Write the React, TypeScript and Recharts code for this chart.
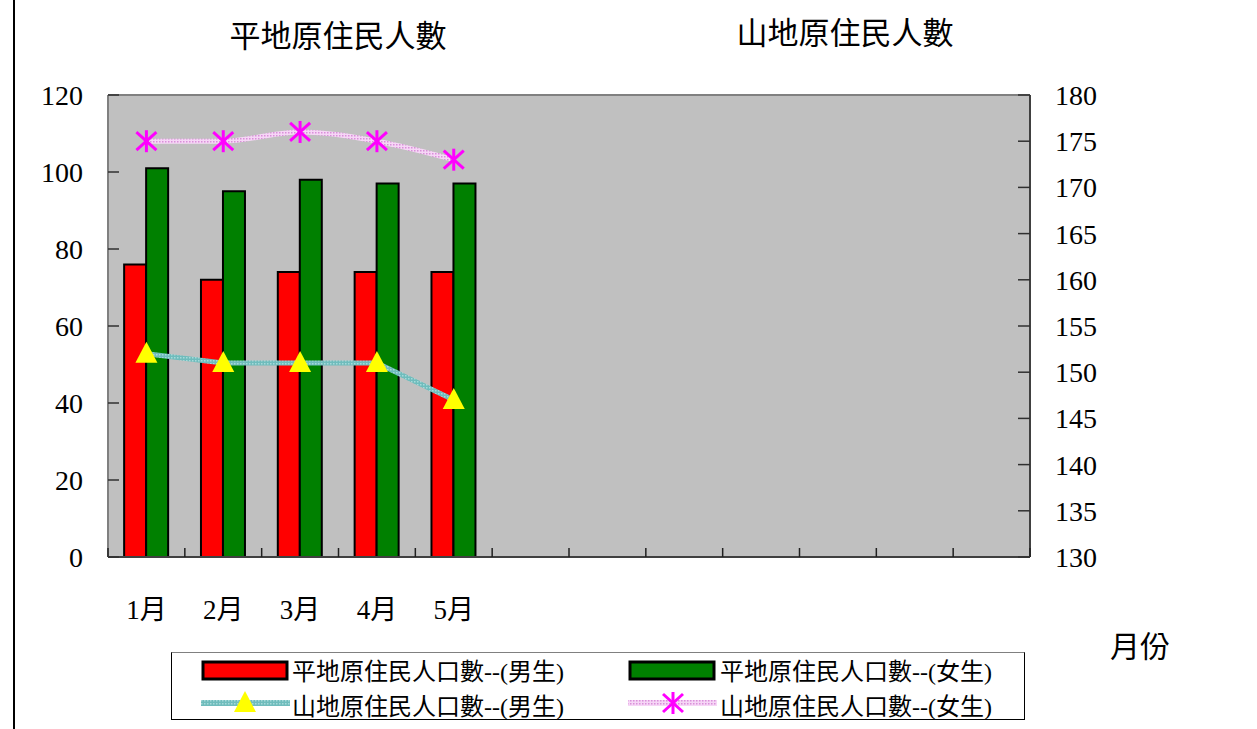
import React from 'react';
import { ComposedChart, Bar, Line, XAxis, YAxis, CartesianGrid, ReferenceLine } from 'recharts';

const months = ['1月', '2月', '3月', '4月', '5月', '6月', '7月', '8月', '9月', '10月', '11月', '12月'];
const tickLabels = ['1月', '2月', '3月', '4月', '5月', '', '', '', '', '', '', ''];
const plainMale = [76, 72, 74, 74, 74];
const plainFemale = [101, 95, 98, 97, 97];
const mountainMale = [152, 151, 151, 151, 147];
const mountainFemale = [175, 175, 176, 175, 173];
const leftTicks = [0, 20, 40, 60, 80, 100, 120];
const rightTicks = [130, 135, 140, 145, 150, 155, 160, 165, 170, 175, 180];

const seriesNames = {
  pm: '平地原住民人口數--(男生)',
  pf: '平地原住民人口數--(女生)',
  mm: '山地原住民人口數--(男生)',
  mf: '山地原住民人口數--(女生)',
};

const data = months.map((m, i) => ({
  month: m,
  pm: plainMale[i] ?? null,
  pf: plainFemale[i] ?? null,
  mm: mountainMale[i] ?? null,
  mf: mountainFemale[i] ?? null,
}));

const FONT = "'Liberation Serif', 'Noto Sans CJK TC', serif";
const W = 1257;
const H = 729;
const LEFT_W = 108;
const RIGHT_W = 227;
const TOP = 95;
const BOTTOM = 172;
const BAND = (W - LEFT_W - RIGHT_W) / months.length;

const XTick = (props: any) => {
  const { x, y, index } = props;
  const half = BAND / 2;
  return (
    <g>
      <line x1={x - half} x2={x - half} y1={y} y2={y - 9} stroke="#202020" strokeWidth={1.5} />
      {index === months.length - 1 && (
        <line x1={x + half} x2={x + half} y1={y} y2={y - 9} stroke="#202020" strokeWidth={1.5} />
      )}
      <text x={x} y={y + 62} textAnchor="middle" fontFamily={FONT} fontSize={27} fill="#000">
        {tickLabels[index]}
      </text>
    </g>
  );
};

const LeftTick = (props: any) => {
  const { x, y, payload } = props;
  return (
    <g>
      <line x1={x} x2={x + 11} y1={y} y2={y} stroke="#303030" strokeWidth={1.5} />
      <text x={x - 25} y={y} dy="0.36em" textAnchor="end" fontFamily={FONT} fontSize={28} fill="#000">
        {payload.value}
      </text>
    </g>
  );
};

const RightTick = (props: any) => {
  const { x, y, payload } = props;
  return (
    <g>
      <line x1={x} x2={x - 12} y1={y} y2={y} stroke="#303030" strokeWidth={1.5} />
      <text x={x + 25} y={y} dy="0.36em" textAnchor="start" fontFamily={FONT} fontSize={28} fill="#000">
        {payload.value}
      </text>
    </g>
  );
};

const Triangle = ({ cx, cy }: { cx: number; cy: number }) => (
  <polygon points={`${cx},${cy - 12} ${cx - 11},${cy + 9} ${cx + 11},${cy + 9}`} fill="#ffff00" />
);

const Star = ({ cx, cy }: { cx: number; cy: number }) => (
  <g stroke="#ff00ff" strokeWidth={3}>
    <line x1={cx} x2={cx} y1={cy - 11} y2={cy + 11} />
    <line x1={cx - 10} x2={cx + 10} y1={cy - 9} y2={cy + 9} />
    <line x1={cx - 10} x2={cx + 10} y1={cy + 9} y2={cy - 9} />
  </g>
);

const triDot = (p: any) => {
  if (p.value == null || p.cx == null) return <g key={p.index} />;
  return <Triangle key={p.index} cx={p.cx} cy={p.cy} />;
};
const starDot = (p: any) => {
  if (p.value == null || p.cx == null) return <g key={p.index} />;
  return <Star key={p.index} cx={p.cx} cy={p.cy} />;
};

const Patterns = () => (
  <defs>
    <pattern id="tealHatch" width="3" height="3" patternUnits="userSpaceOnUse">
      <rect width="3" height="3" fill="#6fbcbc" />
      <rect width="1.5" height="1.5" fill="#a6dada" />
    </pattern>
    <pattern id="pinkHatch" width="3" height="3" patternUnits="userSpaceOnUse">
      <rect width="3" height="3" fill="#f6d6f6" />
      <rect width="1.5" height="1.5" fill="#d98fd9" />
    </pattern>
  </defs>
);

const legendText: React.CSSProperties = {
  position: 'absolute',
  fontFamily: FONT,
  fontSize: 24,
  lineHeight: '24px',
  color: '#000',
  whiteSpace: 'nowrap',
};

const LegendBox = () => (
  <div
    style={{
      position: 'absolute',
      left: 171,
      top: 652,
      width: 854,
      height: 68,
      border: '1.5px solid #000',
      borderTopColor: '#808080',
      boxSizing: 'border-box',
      background: '#fff',
    }}
  >
    <svg width={854} height={68} style={{ position: 'absolute', left: -1.5, top: -1.5 }}>
      <Patterns />
      <rect x={32} y={10} width={84} height={17} fill="#ff0000" stroke="#000" strokeWidth={3} />
      <rect x={459} y={10} width={84} height={17} fill="#008000" stroke="#000" strokeWidth={3} />
      <rect x={30} y={48} width={89} height={6} fill="url(#tealHatch)" />
      <Triangle cx={74} cy={51} />
      <rect x={457} y={48} width={89} height={6} fill="url(#pinkHatch)" />
      <Star cx={502} cy={51} />
    </svg>
    <div style={{ ...legendText, left: 120, top: 7 }}>{seriesNames.pm}</div>
    <div style={{ ...legendText, left: 548, top: 7 }}>{seriesNames.pf}</div>
    <div style={{ ...legendText, left: 120, top: 42 }}>{seriesNames.mm}</div>
    <div style={{ ...legendText, left: 548, top: 42 }}>{seriesNames.mf}</div>
  </div>
);

export default function App() {
  return (
    <div style={{ position: 'fixed', left: 0, top: 0, width: W, height: H, background: '#fff', overflow: 'hidden' }}>
      <div style={{ position: 'absolute', left: 13, top: 0, width: 1.5, height: H, background: '#000' }} />
      <ComposedChart
        width={W}
        height={H}
        data={data}
        margin={{ top: TOP, bottom: 0, left: 0, right: 0 }}
        barCategoryGap="21%"
        barGap={0}
      >
        <Patterns />
        <CartesianGrid fill="#c0c0c0" horizontal={false} vertical={false} stroke="none" />
        <XAxis
          dataKey="month"
          height={BOTTOM}
          tickSize={0}
          tickMargin={0}
          tickLine={false}
          interval={0}
          tick={<XTick />}
          axisLine={{ stroke: '#404040', strokeWidth: 2 }}
        />
        <YAxis
          yAxisId="left"
          orientation="left"
          width={LEFT_W}
          domain={[0, 120]}
          ticks={leftTicks}
          interval={0}
          tickSize={0}
          tickMargin={0}
          tickLine={false}
          tick={<LeftTick />}
          axisLine={{ stroke: '#808080', strokeWidth: 2 }}
        />
        <YAxis
          yAxisId="right"
          orientation="right"
          width={RIGHT_W}
          domain={[130, 180]}
          ticks={rightTicks}
          interval={0}
          tickSize={0}
          tickMargin={0}
          tickLine={false}
          tick={<RightTick />}
          axisLine={{ stroke: '#404040', strokeWidth: 2 }}
        />
        <ReferenceLine yAxisId="left" y={120} stroke="#808080" strokeWidth={2} />
        <Bar yAxisId="left" dataKey="pm" name={seriesNames.pm} fill="#ff0000" stroke="#000" strokeWidth={2} isAnimationActive={false} />
        <Bar yAxisId="left" dataKey="pf" name={seriesNames.pf} fill="#008000" stroke="#000" strokeWidth={2} isAnimationActive={false} />
        <Line
          yAxisId="right"
          dataKey="mm"
          name={seriesNames.mm}
          type="linear"
          stroke="url(#tealHatch) #6fbcbc"
          strokeWidth={5}
          dot={triDot}
          activeDot={false}
          isAnimationActive={false}
        />
        <Line
          yAxisId="right"
          dataKey="mf"
          name={seriesNames.mf}
          type="monotone"
          stroke="url(#pinkHatch) #eeb8ee"
          strokeWidth={5}
          dot={starDot}
          activeDot={false}
          isAnimationActive={false}
        />
      </ComposedChart>
      <div style={{ position: 'absolute', left: 338, top: 33, transform: 'translate(-50%, -50%)', fontFamily: FONT, fontSize: 31, whiteSpace: 'nowrap' }}>
        平地原住民人數
      </div>
      <div style={{ position: 'absolute', left: 845, top: 30, transform: 'translate(-50%, -50%)', fontFamily: FONT, fontSize: 31, whiteSpace: 'nowrap' }}>
        山地原住民人數
      </div>
      <div style={{ position: 'absolute', left: 1110, top: 631, fontFamily: FONT, fontSize: 30, lineHeight: '32px', whiteSpace: 'nowrap' }}>
        月份
      </div>
      <LegendBox />
    </div>
  );
}
